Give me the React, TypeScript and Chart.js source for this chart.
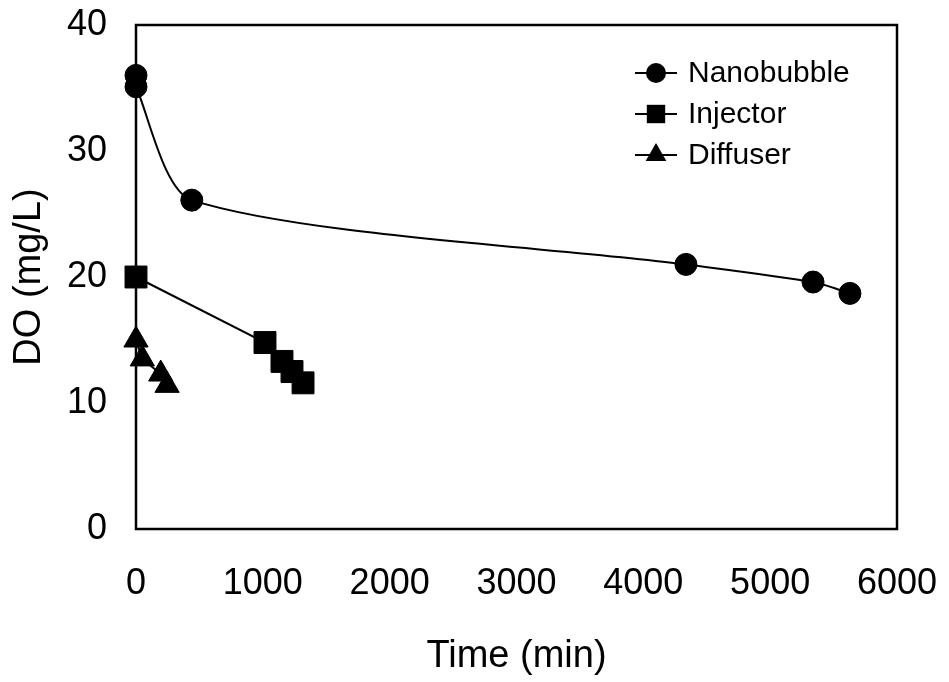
import React, { useEffect, useRef } from "react";
import { Chart, registerables } from "chart.js";

Chart.register(...registerables);

const FONT = "'Liberation Sans', Arial, sans-serif";

const seriesLabels = ["Nanobubble", "Injector", "Diffuser"];

const nanobubbleTime = [0, 0, 440, 4336, 5338, 5629];
const nanobubbleDO = [36.0, 35.1, 26.1, 21.0, 19.6, 18.7];

const injectorTime = [0, 1017, 1151, 1230, 1317];
const injectorDO = [20.0, 14.8, 13.3, 12.5, 11.6];

const diffuserTime = [0, 50, 195, 245];
const diffuserDO = [15.0, 13.5, 12.3, 11.4];

const xTickValues = [0, 1000, 2000, 3000, 4000, 5000, 6000];
const yTickValues = [0, 10, 20, 30, 40];

const xTitle = "Time (min)";
const yTitle = "DO (mg/L)";

const toPoints = (xs: number[], ys: number[]) => xs.map((x, i) => ({ x, y: ys[i] }));

const framePlugin = {
  id: "frame",
  beforeDatasetsDraw(chart: any) {
    const { ctx, chartArea } = chart;
    ctx.save();
    ctx.strokeStyle = "#000";
    ctx.lineWidth = 2.5;
    ctx.strokeRect(chartArea.left, chartArea.top, chartArea.right - chartArea.left, chartArea.bottom - chartArea.top);
    ctx.restore();
  },
};

function drawMarker(ctx: CanvasRenderingContext2D, style: string, x: number, y: number, r: number) {
  ctx.beginPath();
  if (style === "circle") {
    ctx.arc(x, y, r, 0, Math.PI * 2);
  } else if (style === "rect") {
    const s = r * Math.SQRT1_2;
    ctx.rect(x - s, y - s, 2 * s, 2 * s);
  } else {
    ctx.moveTo(x, y - r);
    ctx.lineTo(x + r * Math.sin(Math.PI / 3), y + r / 2);
    ctx.lineTo(x - r * Math.sin(Math.PI / 3), y + r / 2);
    ctx.closePath();
  }
  ctx.fill();
}

const legendPlugin = {
  id: "insideLegend",
  afterDraw(chart: any) {
    const { ctx } = chart;
    const x0 = 635;
    const x1 = 677;
    const textX = 688;
    const rowY = [73, 114, 155];
    const legendR = [10, 13, 12];
    ctx.save();
    ctx.font = `30px ${FONT}`;
    ctx.textBaseline = "middle";
    ctx.textAlign = "left";
    chart.data.datasets.forEach((ds: any, i: number) => {
      const y = rowY[i];
      ctx.strokeStyle = "#000";
      ctx.fillStyle = "#000";
      ctx.lineWidth = 2;
      ctx.beginPath();
      ctx.moveTo(x0, y);
      ctx.lineTo(x1, y);
      ctx.stroke();
      drawMarker(ctx, ds.pointStyle, (x0 + x1) / 2, y, legendR[i]);
      ctx.fillText(ds.label, textX, y + 1);
    });
    ctx.restore();
  },
};

const zeroPadding = (scale: any) => {
  scale.paddingTop = 0;
  scale.paddingBottom = 0;
  scale.paddingLeft = 0;
  scale.paddingRight = 0;
};

export default function App() {
  const canvasRef = useRef<HTMLCanvasElement | null>(null);

  useEffect(() => {
    const canvas = canvasRef.current;
    if (!canvas) return;
    const chart = new Chart(canvas, {
      type: "scatter",
      data: {
        datasets: [
          {
            label: seriesLabels[0],
            data: toPoints(nanobubbleTime, nanobubbleDO),
            showLine: true,
            tension: 0.25,
            borderColor: "#000",
            borderWidth: 2,
            pointStyle: "circle",
            pointRadius: 11,
            pointBackgroundColor: "#000",
            pointBorderColor: "#000",
            pointBorderWidth: 1,
            clip: false,
          },
          {
            label: seriesLabels[1],
            data: toPoints(injectorTime, injectorDO),
            showLine: true,
            tension: 0,
            borderColor: "#000",
            borderWidth: 2,
            pointStyle: "rect",
            pointRadius: 15.5,
            pointBackgroundColor: "#000",
            pointBorderColor: "#000",
            pointBorderWidth: 1,
            clip: false,
          },
          {
            label: seriesLabels[2],
            data: toPoints(diffuserTime, diffuserDO),
            showLine: true,
            tension: 0,
            borderColor: "#000",
            borderWidth: 2,
            pointStyle: "triangle",
            pointRadius: 14,
            pointBackgroundColor: "#000",
            pointBorderColor: "#000",
            pointBorderWidth: 1,
            clip: false,
          },
        ] as any,
      },
      options: {
        responsive: false,
        animation: false,
        layout: { padding: { left: 0, right: 52, top: 25, bottom: 0 } },
        plugins: {
          legend: { display: false },
          tooltip: { enabled: false },
        },
        scales: {
          x: {
            type: "linear",
            min: 0,
            max: 6000,
            afterFit(scale: any) {
              scale.height = 153;
              zeroPadding(scale);
            },
            afterBuildTicks(scale: any) {
              scale.ticks = xTickValues.map((v) => ({ value: v }));
            },
            grid: { display: false, drawTicks: false },
            border: { display: false },
            ticks: {
              color: "#000",
              font: { family: FONT, size: 36 },
              padding: 33,
              maxRotation: 0,
              callback: (v: any) => String(v),
            },
            title: {
              display: true,
              text: xTitle,
              color: "#000",
              font: { family: FONT, size: 38 },
              padding: { top: 0, bottom: 3 },
            },
          },
          y: {
            type: "linear",
            min: 0,
            max: 40,
            afterFit(scale: any) {
              scale.width = 136;
              zeroPadding(scale);
            },
            afterBuildTicks(scale: any) {
              scale.ticks = yTickValues.map((v) => ({ value: v }));
            },
            grid: { display: false, drawTicks: false },
            border: { display: false },
            ticks: {
              color: "#000",
              font: { family: FONT, size: 36 },
              padding: 29,
              callback: (v: any) => String(v),
            },
            title: {
              display: true,
              text: yTitle,
              color: "#000",
              font: { family: FONT, size: 38 },
              padding: { top: 7, bottom: 0 },
            },
          },
        },
      } as any,
      plugins: [framePlugin, legendPlugin],
    });
    return () => chart.destroy();
  }, []);

  return (
    <div style={{ position: "absolute", left: 0, top: 0, width: 949, height: 682, background: "#fff" }}>
      <canvas ref={canvasRef} width={949} height={682} style={{ display: "block" }} />
    </div>
  );
}
